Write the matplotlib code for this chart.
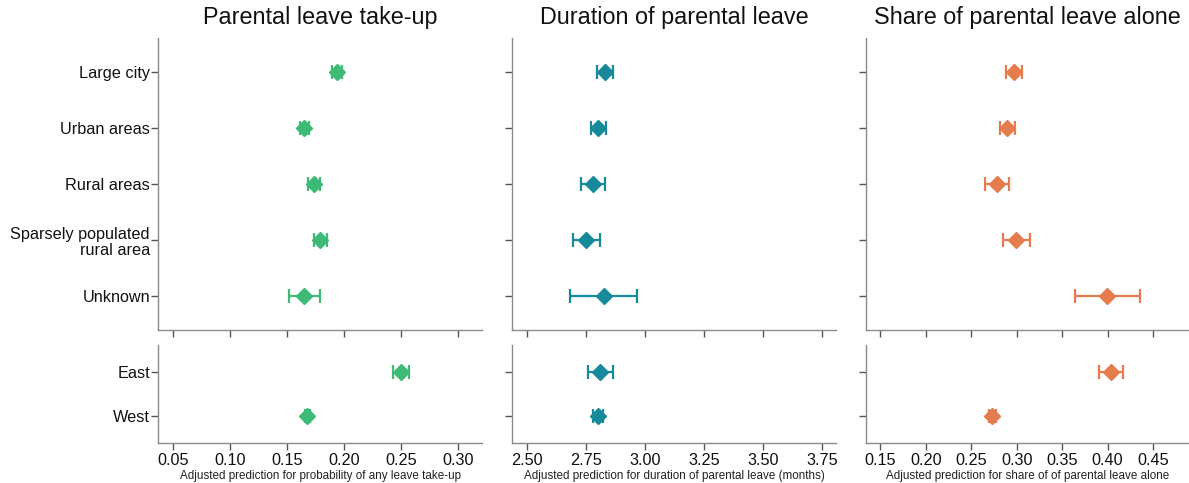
import matplotlib
matplotlib.use("Agg")
import matplotlib.pyplot as plt
import numpy as np

plt.rcParams['font.family'] = ['Liberation Sans', 'DejaVu Sans']

region_labels = ["Large city", "Urban areas", "Rural areas", "Sparsely populated\nrural area", "Unknown"]
ew_labels = ["East", "West"]

titles = ["Parental leave take-up", "Duration of parental leave", "Share of parental leave alone"]
xlabels = ["Adjusted prediction for probability of any leave take-up",
           "Adjusted prediction for duration of parental leave (months)",
           "Adjusted prediction for share of of parental leave alone"]
colors = ["#3cba76", "#16899a", "#e57c4e"]

# Panel 1: take-up
takeup_region = [0.1935, 0.1653, 0.1732, 0.1788, 0.1647]
takeup_region_lo = [0.1897, 0.1615, 0.1688, 0.1735, 0.1514]
takeup_region_hi = [0.1979, 0.1694, 0.1785, 0.1847, 0.1788]
takeup_ew = [0.2496, 0.1679]
takeup_ew_lo = [0.2429, 0.1660]
takeup_ew_hi = [0.2570, 0.1700]

# Panel 2: duration
dur_region = [2.832, 2.803, 2.782, 2.751, 2.827]
dur_region_lo = [2.797, 2.771, 2.729, 2.695, 2.683]
dur_region_hi = [2.867, 2.836, 2.833, 2.809, 2.969]
dur_ew = [2.811, 2.801]
dur_ew_lo = [2.758, 2.782]
dur_ew_hi = [2.866, 2.822]

# Panel 3: share alone
share_region = [0.2973, 0.2899, 0.2789, 0.2998, 0.3991]
share_region_lo = [0.2888, 0.2815, 0.2657, 0.2852, 0.3640]
share_region_hi = [0.3064, 0.2980, 0.2921, 0.3148, 0.4354]
share_ew = [0.4038, 0.2734]
share_ew_lo = [0.3910, 0.2700]
share_ew_hi = [0.4174, 0.2770]

xticks = [[0.05, 0.10, 0.15, 0.20, 0.25, 0.30],
          [2.50, 2.75, 3.00, 3.25, 3.50, 3.75],
          [0.15, 0.20, 0.25, 0.30, 0.35, 0.40, 0.45]]
xlims = [(0.0368, 0.321), (2.4377, 3.81), (0.1343, 0.4896)]

panels = [
    (takeup_region, takeup_region_lo, takeup_region_hi, takeup_ew, takeup_ew_lo, takeup_ew_hi),
    (dur_region, dur_region_lo, dur_region_hi, dur_ew, dur_ew_lo, dur_ew_hi),
    (share_region, share_region_lo, share_region_hi, share_ew, share_ew_lo, share_ew_hi),
]

W, H = 1189, 483
fig = plt.figure(figsize=(W / 100, H / 100), dpi=100)

lefts = [158, 512, 866]
widths = [324, 324, 323]
spine_col = "#8a8a8a"
tick_col = "#555555"


def px_axes(l, t, w, h):
    return fig.add_axes([l / W, 1 - (t + h) / H, w / W, h / H])


def style(ax):
    for s in ["top", "right"]:
        ax.spines[s].set_visible(False)
    for s in ["left", "bottom"]:
        ax.spines[s].set_color(spine_col)
        ax.spines[s].set_linewidth(1.0)
    ax.tick_params(axis="both", colors=tick_col, length=5, width=1.0, labelcolor="#111111",
                   labelsize=11.7)
    ax.tick_params(axis="y", pad=0.8)


def draw(ax, vals, lo, hi, col):
    y = np.arange(len(vals))
    v = np.array(vals)
    xerr = np.vstack([v - np.array(lo), np.array(hi) - v])
    ax.errorbar(v, y, xerr=xerr, fmt="D", color=col, ecolor=col, ms=8, elinewidth=1.6,
                capsize=5, capthick=1.6, mec=col)


for i in range(3):
    rv, rlo, rhi, ev, elo, ehi = panels[i]
    ax1 = px_axes(lefts[i], 38, widths[i], 292)
    ax2 = px_axes(lefts[i], 345, widths[i], 98)
    for ax in (ax1, ax2):
        style(ax)
        ax.set_xlim(*xlims[i])
        ax.set_xticks(xticks[i])
    draw(ax1, rv, rlo, rhi, colors[i])
    draw(ax2, ev, elo, ehi, colors[i])
    ax1.set_ylim(4.6, -0.6)
    ax2.set_ylim(1.6, -0.6)
    ax1.set_yticks(range(len(region_labels)))
    ax2.set_yticks(range(len(ew_labels)))
    ax1.tick_params(axis="x", labelbottom=False)
    if i == 0:
        ax1.set_yticklabels(region_labels, linespacing=1.15)
        ax2.set_yticklabels(ew_labels)
    else:
        ax1.set_yticklabels([])
        ax2.set_yticklabels([])
    ax2.set_xticklabels([f"{t:.2f}" for t in xticks[i]])
    ax2.tick_params(axis="x", pad=2)
    ax2.set_xlabel(xlabels[i], fontsize=8.4, color="#222222", labelpad=2)
    ax1.set_title(titles[i], fontsize=16.8, color="#111111", pad=10)

fig.savefig("out.png", dpi=100)
